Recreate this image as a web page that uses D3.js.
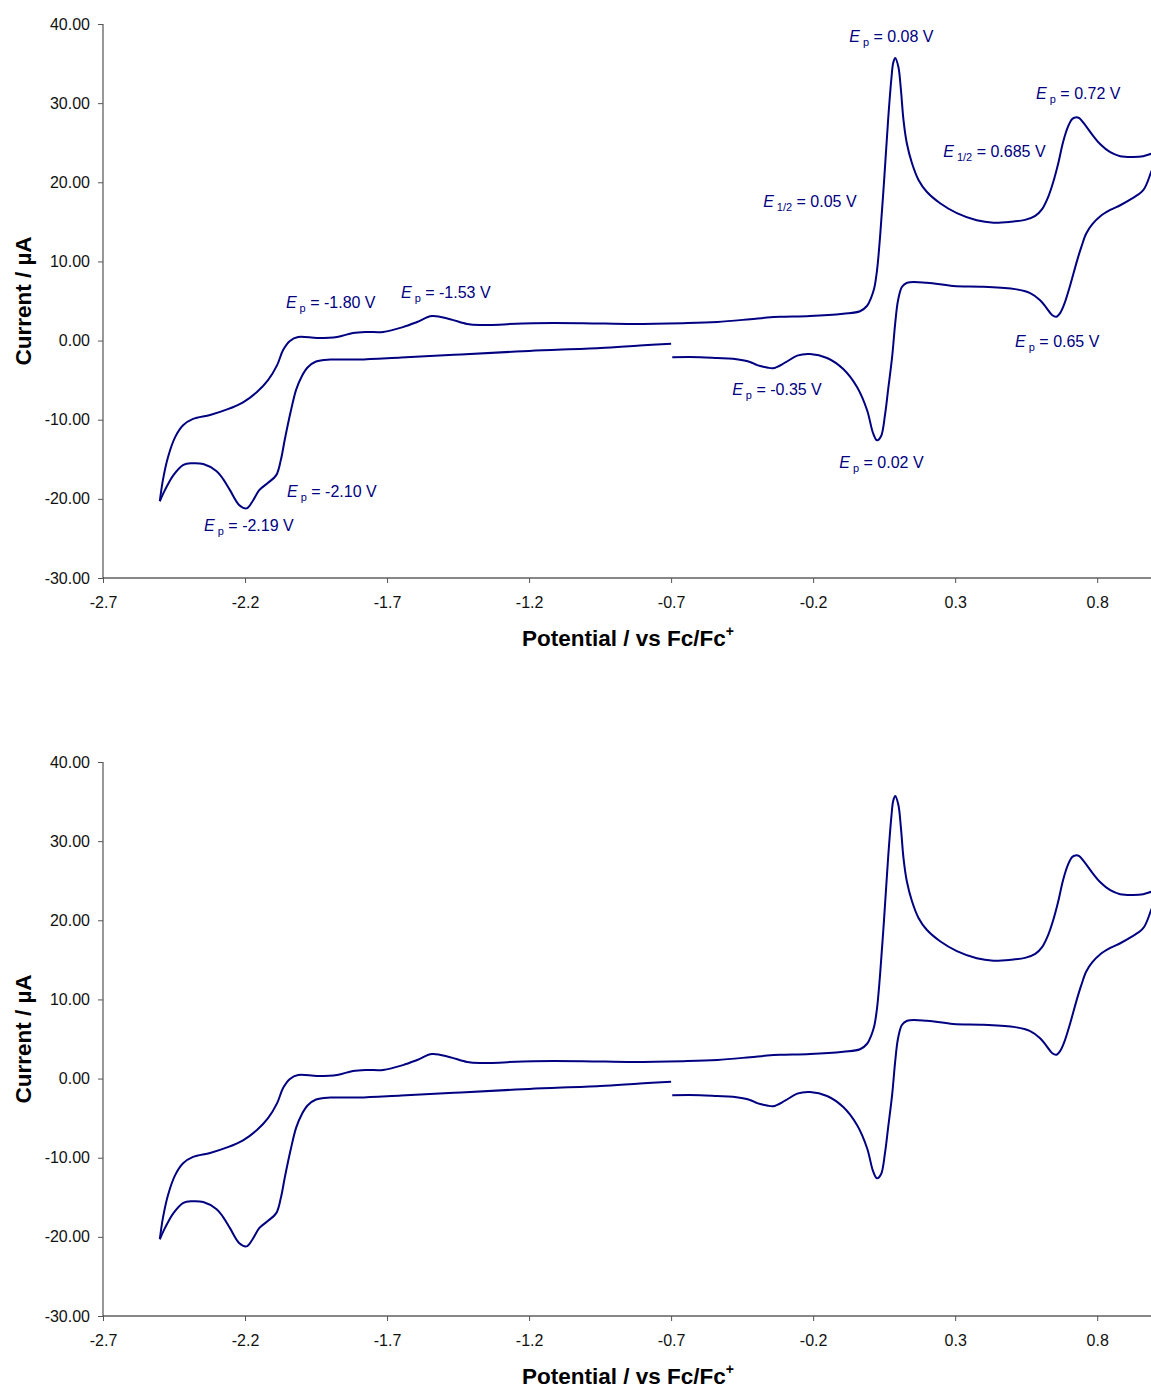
<!DOCTYPE html>
<html>
<head>
<meta charset="utf-8">
<script src="https://cdn.jsdelivr.net/npm/d3@7"></script>
<style>
  body { margin: 0; background: #fff; }
  svg { display: block; font-family: "Liberation Sans", Arial, sans-serif; }
</style>
</head>
<body>
<script>
// cyclic voltammogram, scan starts at -0.7 V going negative
// sweep 1: -0.7 -> -2.5 V
var cathodicE = [-0.70, -0.81, -0.95, -1.20, -1.44, -1.65, -1.80, -1.90, -1.95, -1.98, -2.00, -2.02, -2.04, -2.06, -2.074, -2.09, -2.12, -2.15, -2.175, -2.195, -2.22, -2.253, -2.277, -2.30, -2.347, -2.387, -2.417, -2.452, -2.482, -2.50];
var cathodicI = [-0.4, -0.62, -0.94, -1.31, -1.75, -2.14, -2.40, -2.40, -2.65, -3.4, -4.5, -6.2, -9.1, -12.5, -15.1, -17.0, -18.0, -18.9, -20.4, -21.2, -20.8, -18.9, -17.5, -16.5, -15.6, -15.5, -15.7, -17.0, -18.9, -20.3];
// sweep 2: -2.5 -> 1.0 V
var anodicE = [-2.50, -2.489, -2.471, -2.446, -2.418, -2.383, -2.323, -2.263, -2.207, -2.158, -2.119, -2.087, -2.066, -2.042, -2.013, -1.946, -1.876, -1.820, -1.770, -1.714, -1.644, -1.594, -1.542, -1.478, -1.418, -1.373, -1.186, -1.010, -0.834, -0.658, -0.538, -0.422, -0.362, -0.316, -0.211, -0.094, -0.035, -0.010, 0.004, 0.015, 0.025, 0.036, 0.050, 0.064, 0.075, 0.082, 0.089, 0.100, 0.109, 0.118, 0.130, 0.148, 0.171, 0.200, 0.247, 0.306, 0.376, 0.435, 0.494, 0.546, 0.582, 0.606, 0.627, 0.645, 0.663, 0.680, 0.698, 0.712, 0.723, 0.737, 0.754, 0.783, 0.811, 0.846, 0.881, 0.927, 0.962, 0.990, 1.00];
var anodicI = [-20.3, -17.6, -14.7, -12.2, -10.7, -9.9, -9.4, -8.7, -7.8, -6.5, -5.0, -3.1, -1.2, -0.05, 0.45, 0.33, 0.45, 0.96, 1.09, 1.09, 1.7, 2.35, 3.1, 2.7, 2.1, 1.97, 2.2, 2.2, 2.1, 2.2, 2.35, 2.7, 2.9, 3.0, 3.1, 3.4, 3.7, 4.4, 5.4, 6.6, 8.9, 13.3, 20.3, 27.9, 32.9, 35.1, 35.7, 34.6, 31.7, 27.9, 24.9, 22.4, 20.3, 18.8, 17.35, 16.1, 15.2, 14.9, 15.0, 15.25, 15.75, 16.6, 18.1, 20.0, 22.4, 25.1, 27.1, 28.0, 28.2, 28.1, 27.4, 26.0, 24.8, 23.8, 23.3, 23.2, 23.3, 23.6, 23.7];
// sweep 3: 1.0 -> -0.7 V
var returnE = [1.00, 0.990, 0.962, 0.916, 0.881, 0.846, 0.811, 0.783, 0.761, 0.744, 0.730, 0.705, 0.684, 0.670, 0.656, 0.642, 0.620, 0.599, 0.564, 0.511, 0.399, 0.293, 0.201, 0.131, 0.113, 0.099, 0.089, 0.078, 0.064, 0.053, 0.039, 0.025, 0.011, -0.010, -0.045, -0.094, -0.151, -0.211, -0.256, -0.299, -0.341, -0.362, -0.397, -0.422, -0.482, -0.538, -0.598, -0.696];
var returnI = [22.2, 21.3, 19.0, 17.8, 17.1, 16.5, 15.7, 14.7, 13.5, 11.8, 10.2, 7.0, 4.6, 3.5, 3.0, 3.2, 4.2, 5.1, 6.0, 6.5, 6.8, 6.9, 7.3, 7.3, 6.8, 5.1, 2.2, -2.1, -6.2, -9.4, -12.1, -12.6, -11.7, -8.8, -5.9, -3.6, -2.2, -1.7, -1.9, -2.8, -3.5, -3.4, -3.1, -2.7, -2.3, -2.2, -2.1, -2.1];

var xTicks = [-2.7, -2.2, -1.7, -1.2, -0.7, -0.2, 0.3, 0.8];
var yTicks = [-30, -20, -10, 0, 10, 20, 30, 40];

// peak labels: subscript, value text, anchor in data units (E, I)
var labelSub = ["p", "p", "1/2", "1/2", "p", "p", "p", "p", "p", "p", "p"];
var labelText = ["0.08 V", "0.72 V", "0.685 V", "0.05 V", "-1.80 V", "-1.53 V", "0.65 V", "-0.35 V", "0.02 V", "-2.10 V", "-2.19 V"];
var labelE = [-0.073, 0.585, 0.258, -0.376, -2.056, -1.651, 0.511, -0.485, -0.108, -2.052, -2.344];
var labelI = [37.7, 30.5, 23.2, 16.9, 4.1, 5.4, -0.8, -6.9, -16.1, -19.8, -24.1];

var W = 1151, H = 1389;
var ink = "#000080";

var svg = d3.select("body").append("svg")
  .attr("width", W)
  .attr("height", H);

var x = d3.scaleLinear().domain([-2.7, 1.0]).range([103, 1154]);

function zipPts(es, is) {
  return es.map(function(e, i) { return [e, is[i]]; });
}

function drawPanel(top, withLabels) {
  var y = d3.scaleLinear().domain([-30, 40]).range([top + 554, top]);
  var g = svg.append("g");

  // axes
  var yAxis = g.append("g")
    .attr("transform", "translate(103,0)")
    .call(d3.axisLeft(y).tickValues(yTicks).tickSize(5).tickPadding(8)
      .tickFormat(d3.format(".2f")));
  var xAxis = g.append("g")
    .attr("transform", "translate(0," + (top + 554) + ")")
    .call(d3.axisBottom(x).tickValues(xTicks).tickSize(5).tickPadding(14)
      .tickFormat(d3.format(".1f")));
  yAxis.select(".domain").attr("d", "M0," + y(-30) + "V" + y(40)).attr("stroke", "#333");
  xAxis.select(".domain").attr("d", "M103,0H" + W).attr("stroke", "#111");
  g.selectAll(".tick line").attr("stroke", "#555");
  g.selectAll(".tick text")
    .attr("font-size", "16px")
    .attr("fill", "#111")
    .attr("font-family", "\"Liberation Sans\", Arial, sans-serif")
    .text(function() { return d3.select(this).text().replace("\u2212", "-"); });

  // titles
  g.append("text")
    .attr("transform", "translate(31," + (top + 277) + ") rotate(-90)")
    .attr("text-anchor", "middle")
    .attr("font-size", "22.5px")
    .attr("font-weight", "bold")
    .text("Current / \u00b5A");
  var xt = g.append("text")
    .attr("x", 628)
    .attr("y", top + 622)
    .attr("text-anchor", "middle")
    .attr("font-size", "22.5px")
    .attr("font-weight", "bold");
  xt.append("tspan").text("Potential / vs Fc/Fc");
  xt.append("tspan").attr("font-size", "14px").attr("dy", -10).text("+");

  // CV trace, one path per sweep so the reversal points stay sharp
  var line = d3.line()
    .x(function(d) { return x(d[0]); })
    .y(function(d) { return y(d[1]); })
    .curve(d3.curveCatmullRom.alpha(0.5));
  var sweeps = [zipPts(cathodicE, cathodicI), zipPts(anodicE, anodicI), zipPts(returnE, returnI)];
  g.selectAll("path.cv")
    .data(sweeps)
    .enter().append("path")
    .attr("class", "cv")
    .attr("d", line)
    .attr("fill", "none")
    .attr("stroke", ink)
    .attr("stroke-width", 2)
    .attr("stroke-linejoin", "round");

  if (!withLabels) return;
  labelText.forEach(function(t, i) {
    var lt = g.append("text")
      .attr("x", x(labelE[i]))
      .attr("y", y(labelI[i]))
      .attr("font-size", "16px")
      .attr("fill", ink);
    lt.append("tspan").attr("font-style", "italic").text("E");
    lt.append("tspan").attr("font-size", "11px").attr("dx", 3).attr("dy", 4).text(labelSub[i]);
    lt.append("tspan").attr("dy", -4).text(" = " + t);
  });
}

drawPanel(24, true);
drawPanel(762, false);
</script>
</body>
</html>
